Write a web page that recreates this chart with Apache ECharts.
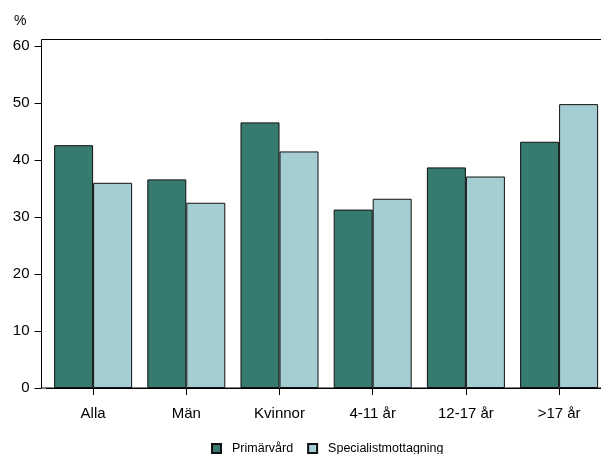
<!DOCTYPE html>
<html>
<head>
<meta charset="utf-8">
<script src="https://cdn.jsdelivr.net/npm/echarts@6/dist/echarts.min.js"></script>
<style>
  html, body { margin: 0; padding: 0; background: #fff; }
  #chart { width: 601px; height: 454px; }
</style>
</head>
<body>
<div id="chart"></div>
<script>
// Andel (%) per grupp, primärvård jämfört med specialistmottagning
const categories = ['Alla', 'Män', 'Kvinnor', '4-11 år', '12-17 år', '>17 år'];
const primarvard = [42.6, 36.6, 46.6, 31.3, 38.7, 43.2];
const specialist = [36.0, 32.5, 41.5, 33.2, 37.1, 49.8];
const seriesNames = ['Primärvård', 'Specialistmottagning'];
const yTicks = { min: 0, max: 60, interval: 10 };

const FONT = '"Liberation Sans", Arial, sans-serif';
const chart = echarts.init(document.getElementById('chart'), null, { renderer: 'canvas' });

chart.setOption({
  animation: false,
  backgroundColor: '#fff',
  textStyle: { fontFamily: FONT, color: '#000' },
  title: {
    text: '%',
    left: 9, top: 9,
    textStyle: { fontFamily: FONT, fontSize: 14, fontWeight: 'normal', color: '#000' }
  },
  grid: [
    // plot area with the bars (last group runs to the canvas edge)
    { left: 46.5, top: 46, width: 559.2, height: 342, outerBoundsMode: 'none', containLabel: false },
    // frame around the plot area (left, top, bottom edges; right edge lies past the canvas)
    { left: 41.5, top: 39.5, width: 700, height: 348.5, show: true,
      outerBoundsMode: 'none', containLabel: false,
      borderColor: '#000', borderWidth: 1, backgroundColor: 'transparent' }
  ],
  legend: {
    data: seriesNames,
    left: 206, top: 437,
    itemWidth: 9, itemHeight: 9, itemGap: 14,
    icon: 'rect',
    textStyle: { fontFamily: FONT, fontSize: 12.5, color: '#000', padding: [0, 0, 0, 6] }
  },
  xAxis: [
    {
      gridIndex: 0,
      type: 'category',
      data: categories,
      boundaryGap: true,
      axisLine: { show: true, lineStyle: { color: '#000', width: 1 } },
      axisTick: { show: true, alignWithLabel: true, length: 7, lineStyle: { color: '#000' } },
      axisLabel: { fontFamily: FONT, fontSize: 15, color: '#000', margin: 18 }
    },
    { gridIndex: 1, type: 'value', min: 0, max: 1, show: false }
  ],
  yAxis: [
    {
      gridIndex: 0,
      type: 'value',
      min: yTicks.min, max: yTicks.max, interval: yTicks.interval,
      offset: 5,
      axisLine: { show: false },
      axisTick: { show: true, length: 7, lineStyle: { color: '#000' } },
      splitLine: { show: false },
      axisLabel: { fontFamily: FONT, fontSize: 15, color: '#000', margin: 12 }
    },
    { gridIndex: 1, type: 'value', min: 0, max: 1, show: false }
  ],
  series: [
    {
      name: seriesNames[0],
      type: 'bar',
      xAxisIndex: 0, yAxisIndex: 0,
      data: primarvard,
      barWidth: 39,
      barGap: '0%',
      itemStyle: { color: '#377a70', borderColor: '#111', borderWidth: 1 }
    },
    {
      name: seriesNames[1],
      type: 'bar',
      xAxisIndex: 0, yAxisIndex: 0,
      data: specialist,
      barWidth: 39,
      barGap: '0%',
      itemStyle: { color: '#a4ced1', borderColor: '#111', borderWidth: 1 }
    }
  ]
});
</script>
</body>
</html>
